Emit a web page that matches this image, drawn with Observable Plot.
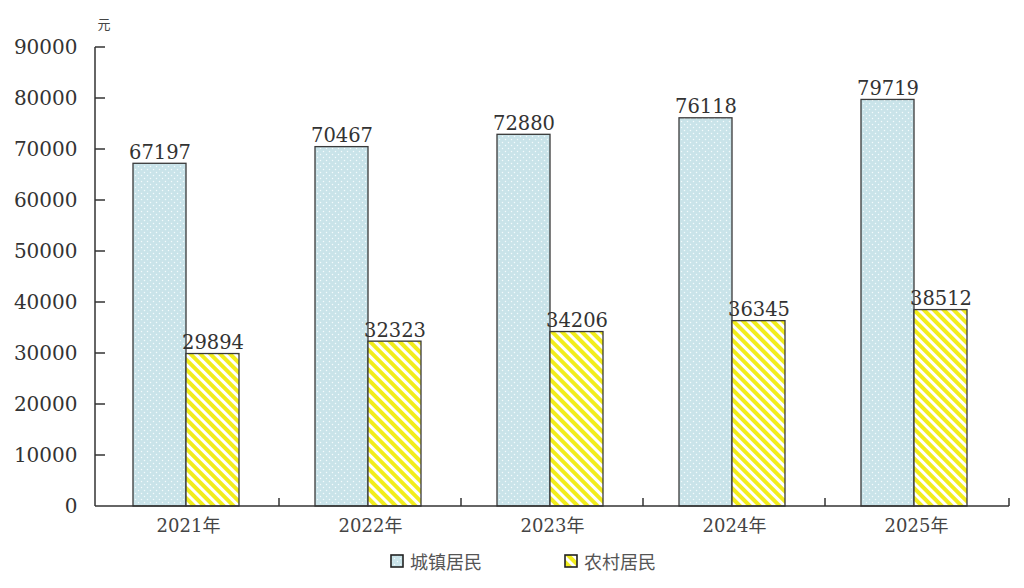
<!DOCTYPE html>
<html>
<head>
<meta charset="utf-8">
<script src="https://cdn.jsdelivr.net/npm/d3@7"></script>
<script src="https://cdn.jsdelivr.net/npm/@observablehq/plot@0.6"></script>
<style>
  html, body { margin: 0; padding: 0; background: white; }
  #wrap { position: relative; width: 1024px; height: 588px; overflow: hidden; }
  #legend { position: absolute; left: 0; top: 546px; width: 1024px; height: 30px;
    font-family: "DejaVu Serif", "Noto Sans CJK SC", serif; font-size: 18px; color: #555; }
  .item { position: absolute; top: 2px; display: flex; align-items: center; gap: 6px; }
  .item svg { display: block; }
</style>
</head>
<body>
<div id="wrap"></div>
<script>
const years = ["2021", "2022", "2023", "2024", "2025"];
const urban = [67197, 70467, 72880, 76118, 79719];
const rural = [29894, 32323, 34206, 36345, 38512];
const series = ["城镇居民", "农村居民"];
const yTicks = [0, 10000, 20000, 30000, 40000, 50000, 60000, 70000, 80000, 90000];
const unit = "元";

const data = years.flatMap((yr, i) => [
  {year: yr, series: series[0], value: urban[i]},
  {year: yr, series: series[1], value: rural[i]}
]);

const FONT = "'DejaVu Serif', 'Noto Sans CJK SC', serif";

const plot = Plot.plot({
  width: 1024,
  height: 548,
  marginLeft: 95,
  marginRight: 15,
  marginTop: 47,
  marginBottom: 42,
  style: {fontFamily: FONT, background: "white", color: "#333"},
  fx: {domain: years, padding: 0, label: null},
  x: {domain: series, paddingInner: 0, paddingOuter: 0.7, align: 0.47, axis: null},
  y: {domain: [0, 90000], label: null},
  color: {domain: series, range: ["url(#dots)", "url(#stripes)"]},
  marks: [
    Plot.barY(data, {fx: "year", x: "series", y: "value", fill: "series", stroke: "#3a3a3a", strokeWidth: 1.3}),
    Plot.text(data, {fx: "year", x: "series", y: "value", text: d => String(d.value),
      lineAnchor: "bottom", dy: -5, fontSize: 19.5, fill: "#333"}),
    Plot.axisY({ticks: yTicks, tickSize: 0, tickPadding: 20, fontSize: 20, fill: "#333",
      tickFormat: d => String(d)}),
    Plot.axisFx({anchor: "bottom", tickSize: 0, tickPadding: 13, fontSize: 18, fill: "#444",
      tickFormat: d => d + "年"}),
    Plot.text([unit], {text: d => d, frameAnchor: "top-left", facetAnchor: "left",
      dy: -28, dx: 0, fontSize: 13, fill: "#444", fontFamily: "'Noto Sans CJK SC', sans-serif"})
  ]
});

const svg = d3.select(plot);
const defs = svg.insert("defs", ":first-child");
const dots = defs.append("pattern").attr("id", "dots").attr("patternUnits", "userSpaceOnUse")
  .attr("width", 6).attr("height", 6);
dots.append("rect").attr("width", 6).attr("height", 6).attr("fill", "#c9e3e9");
dots.append("circle").attr("cx", 1.5).attr("cy", 1.5).attr("r", 0.75).attr("fill", "#f4fbfc");
dots.append("circle").attr("cx", 4.5).attr("cy", 4.5).attr("r", 0.75).attr("fill", "#f4fbfc");
const stripes = defs.append("pattern").attr("id", "stripes").attr("patternUnits", "userSpaceOnUse")
  .attr("width", 7).attr("height", 7).attr("patternTransform", "rotate(-45)");
stripes.append("rect").attr("width", 7).attr("height", 7).attr("fill", "#ffffff");
stripes.append("rect").attr("width", 4).attr("height", 7).attr("fill", "#f2ed1c");

// axis lines and inward ticks derived from the plot's scales
const fx = plot.scale("fx");
const y = plot.scale("y");
const left = fx.range[0];
const right = fx.range[1];
const y0 = y.apply(0);
const g = svg.append("g").attr("stroke", "#333").attr("stroke-width", 1.5).attr("fill", "none");
g.append("line").attr("x1", left).attr("x2", left).attr("y1", y0).attr("y2", y.apply(yTicks[yTicks.length - 1]));
g.append("line").attr("x1", left).attr("x2", right).attr("y1", y0).attr("y2", y0);
for (const t of yTicks.slice(1)) {
  g.append("line").attr("x1", left).attr("x2", left + 10).attr("y1", y.apply(t)).attr("y2", y.apply(t));
}
const bounds = years.slice(1).map(yr => fx.apply(yr)).concat([right]);
for (const b of bounds) {
  g.append("line").attr("x1", b).attr("x2", b).attr("y1", y0).attr("y2", y0 - 8);
}

const wrap = document.getElementById("wrap");
wrap.appendChild(plot);

// legend
const legend = document.createElement("div");
legend.id = "legend";
const legendLeft = [390, 564];
series.forEach((s, i) => {
  const item = document.createElement("div");
  item.className = "item";
  item.style.left = legendLeft[i] + "px";
  item.innerHTML = `<svg width="14" height="14"><rect x="1" y="1" width="12" height="12" fill="${i === 0 ? "url(#dots)" : "url(#stripes)"}" stroke="#222" stroke-width="1.6"/></svg><span>${s}</span>`;
  legend.appendChild(item);
});
wrap.appendChild(legend);
</script>
</body>
</html>
